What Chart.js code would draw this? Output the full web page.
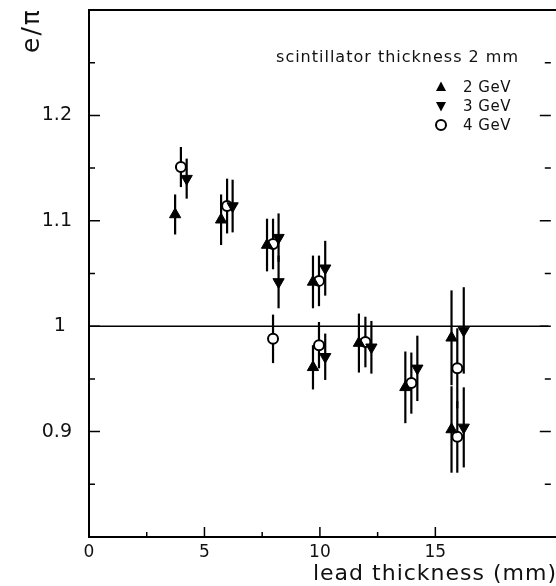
<!DOCTYPE html>
<html>
<head>
<meta charset="utf-8">
<script src="https://cdn.jsdelivr.net/npm/chart.js@4/dist/chart.umd.min.js"></script>
<style>
  html, body { margin: 0; padding: 0; background: #fff; }
  #wrap { width: 556px; height: 586px; }
</style>
</head>
<body>
<div id="wrap"><canvas id="myChart" width="556" height="586"></canvas></div>
<script>
// tick labels
const xTickLabels = ['0', '5', '10', '15'];
const yTickLabels = ['0.9', '1', '1.1', '1.2'];

// 2 GeV (up triangles)
const x2 = [3.73, 5.72, 7.71, 9.70, 9.70, 11.69, 13.70, 15.70, 15.70];
const y2 = [1.106, 1.101, 1.077, 1.042, 0.961, 0.984, 0.942, 0.989, 0.902];
const e2 = [0.019, 0.024, 0.025, 0.025, 0.021, 0.028, 0.034, 0.045, 0.041];

// 3 GeV (down triangles)
const x3 = [4.23, 6.22, 8.21, 8.21, 10.23, 10.23, 12.23, 14.22, 16.23, 16.23];
const y3 = [1.140, 1.114, 1.084, 1.042, 1.055, 0.971, 0.980, 0.960, 0.996, 0.904];
const e3 = [0.019, 0.025, 0.023, 0.025, 0.026, 0.022, 0.025, 0.031, 0.041, 0.038];

// 4 GeV (open circles)
const x4 = [3.98, 5.98, 7.97, 7.97, 9.96, 9.96, 11.97, 13.96, 15.95, 15.95];
const y4 = [1.151, 1.114, 1.078, 0.988, 1.043, 0.982, 0.985, 0.946, 0.960, 0.895];
const e4 = [0.019, 0.026, 0.024, 0.023, 0.024, 0.022, 0.024, 0.029, 0.038, 0.034];

const seriesNames = ['2 GeV', '3 GeV', '4 GeV'];
const legendTitle = 'scintillator thickness 2 mm';
const xTitle = 'lead thickness (mm)';
const yTitle = 'e/\u03C0';

function pts(xs, ys) {
    return xs.map((x, i) => ({ x: x, y: ys[i] }));
}

const FONT = "'DejaVu Sans', sans-serif";
const allErrs = [
    { xs: x2, ys: y2, es: e2 },
    { xs: x3, ys: y3, es: e3 },
    { xs: x4, ys: y4, es: e4 }
];

// draws frame, ticks, error bars and reference line
const decorPlugin = {
    id: 'decor',
    beforeDatasetsDraw(chart) {
        const ctx = chart.ctx;
        const xs = chart.scales.x, ys = chart.scales.y;
        const a = chart.chartArea;
        const xRight = xs.getPixelForValue(20);
        ctx.save();
        ctx.strokeStyle = '#000';

        // reference line at 1
        ctx.lineWidth = 1.5;
        const y1 = ys.getPixelForValue(1);
        ctx.beginPath();
        ctx.moveTo(a.left, y1);
        ctx.lineTo(a.right, y1);
        ctx.stroke();

        // error bars
        ctx.lineWidth = 2.2;
        allErrs.forEach(s => {
            s.xs.forEach((x, i) => {
                const px = xs.getPixelForValue(x);
                ctx.beginPath();
                ctx.moveTo(px, ys.getPixelForValue(s.ys[i] + s.es[i]));
                ctx.lineTo(px, ys.getPixelForValue(s.ys[i] - s.es[i]));
                ctx.stroke();
            });
        });

        // y ticks (left and right, inward)
        ctx.lineWidth = 1.5;
        ys.ticks.forEach(t => {
            const v = Math.round(t.value * 100);
            if (v % 5 !== 0) return;
            const major = v % 10 === 0;
            const len = major ? 11 : 6;
            const py = ys.getPixelForValue(t.value);
            ctx.beginPath();
            ctx.moveTo(a.left, py);
            ctx.lineTo(a.left + len, py);
            ctx.moveTo(xRight, py);
            ctx.lineTo(xRight - len, py);
            ctx.stroke();
        });
        // x ticks (bottom, inward)
        xs.ticks.forEach(t => {
            const v = Math.round(t.value * 10);
            if (v % 25 !== 0) return;
            const major = v % 50 === 0;
            const len = major ? 10 : 5;
            const px = xs.getPixelForValue(t.value);
            ctx.beginPath();
            ctx.moveTo(px, a.bottom);
            ctx.lineTo(px, a.bottom - len);
            ctx.stroke();
        });

        // frame
        ctx.lineWidth = 2;
        ctx.beginPath();
        ctx.moveTo(chart.width, a.top);
        ctx.lineTo(a.left, a.top);
        ctx.lineTo(a.left, a.bottom);
        ctx.lineTo(chart.width, a.bottom);
        ctx.stroke();
        ctx.restore();
    },
    afterDraw(chart) {
        const ctx = chart.ctx;
        ctx.save();
        ctx.fillStyle = '#111';

        // axis titles
        ctx.letterSpacing = '1px';
        ctx.font = '22px ' + FONT;
        ctx.textAlign = 'right';
        ctx.textBaseline = 'alphabetic';
        ctx.fillText(xTitle, 557, 580);

        ctx.save();
        ctx.translate(39, 53);
        ctx.rotate(-Math.PI / 2);
        ctx.textAlign = 'left';
        ctx.letterSpacing = '2px';
        ctx.font = '25px ' + FONT;
        ctx.fillText(yTitle, 0, 0);
        ctx.restore();

        // legend
        ctx.letterSpacing = '1px';
        ctx.font = '16px ' + FONT;
        ctx.textAlign = 'right';
        ctx.fillText(legendTitle, 519, 62);

        ctx.letterSpacing = '0.5px';
        ctx.font = '15px ' + FONT;
        ctx.textAlign = 'left';
        ctx.textBaseline = 'middle';
        const rows = [87, 106, 125];
        const mx = 441;
        seriesNames.forEach((name, i) => {
            const cy = rows[i];
            ctx.fillText(name, 463, cy + 1);
            ctx.fillStyle = '#000';
            ctx.strokeStyle = '#000';
            ctx.beginPath();
            if (i === 0) {
                ctx.moveTo(mx, cy - 5.5);
                ctx.lineTo(mx + 5, cy + 4);
                ctx.lineTo(mx - 5, cy + 4);
                ctx.closePath();
                ctx.fill();
            } else if (i === 1) {
                ctx.moveTo(mx, cy + 5.5);
                ctx.lineTo(mx + 5, cy - 4);
                ctx.lineTo(mx - 5, cy - 4);
                ctx.closePath();
                ctx.fill();
            } else {
                ctx.lineWidth = 2;
                ctx.arc(mx, cy, 5, 0, Math.PI * 2);
                ctx.stroke();
            }
            ctx.fillStyle = '#111';
        });
        ctx.restore();
    }
};

const ctx = document.getElementById('myChart').getContext('2d');
const myChart = new Chart(ctx, {
    type: 'scatter',
    data: {
        datasets: [
            {
                label: seriesNames[0],
                data: pts(x2, y2),
                pointStyle: 'triangle',
                pointRadius: 6.5,
                backgroundColor: '#000',
                borderColor: '#000',
                borderWidth: 1
            },
            {
                label: seriesNames[1],
                data: pts(x3, y3),
                pointStyle: 'triangle',
                rotation: 180,
                pointRadius: 6.5,
                backgroundColor: '#000',
                borderColor: '#000',
                borderWidth: 1
            },
            {
                label: seriesNames[2],
                data: pts(x4, y4),
                pointStyle: 'circle',
                pointRadius: 5,
                backgroundColor: '#fff',
                borderColor: '#000',
                borderWidth: 2
            }
        ]
    },
    options: {
        responsive: false,
        animation: false,
        layout: { padding: { top: 10, right: 0, left: 0, bottom: 0 } },
        plugins: {
            legend: { display: false },
            tooltip: { enabled: false }
        },
        scales: {
            x: {
                type: 'linear',
                min: 0,
                max: 19.9,
                afterFit: s => { s.height = 49; s.paddingLeft = 0; s.paddingRight = 0; },
                grid: { display: false, drawTicks: false },
                border: { display: false },
                ticks: {
                    stepSize: 2.5,
                    autoSkip: false,
                    maxRotation: 0,
                    padding: 5,
                    color: '#111',
                    font: { family: FONT, size: 17 },
                    callback: function (v) {
                        const i = [0, 5, 10, 15].indexOf(Math.round(v * 10) / 10);
                        return i >= 0 ? xTickLabels[i] : '';
                    }
                }
            },
            y: {
                type: 'linear',
                min: 0.8,
                max: 1.3,
                afterFit: s => { s.width = 89; s.paddingTop = 0; s.paddingBottom = 0; },
                grid: { display: false, drawTicks: false },
                border: { display: false },
                ticks: {
                    stepSize: 0.05,
                    autoSkip: false,
                    padding: 17,
                    color: '#111',
                    font: { family: FONT, size: 19 },
                    callback: function (v) {
                        const i = [90, 100, 110, 120].indexOf(Math.round(v * 100));
                        if (i < 0) return '';
                        return i === 1 ? yTickLabels[i] + ' ' : yTickLabels[i];
                    }
                }
            }
        }
    },
    plugins: [decorPlugin]
});
</script>
</body>
</html>
